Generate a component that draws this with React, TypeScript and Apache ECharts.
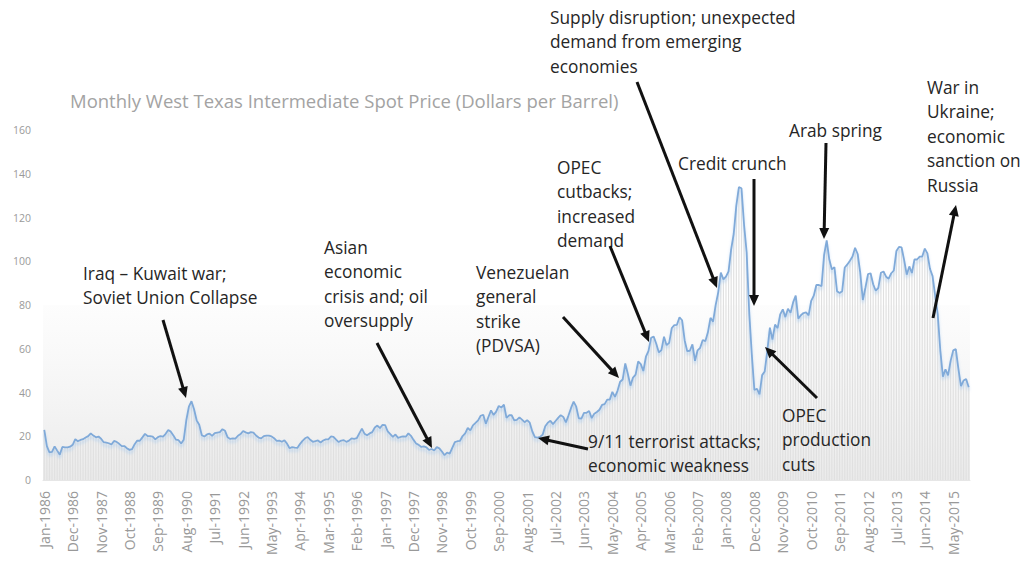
import React, { useEffect, useRef } from "react";
import * as echarts from "echarts";

const MONTHS = ["Jan", "Feb", "Mar", "Apr", "May", "Jun", "Jul", "Aug", "Sep", "Oct", "Nov", "Dec"];
const START_YEAR = 1986;

// Monthly WTI spot price, Jan-1986 .. Nov-2015 (USD per barrel)
const wtiPrice = [
  22.93, 15.46, 12.61, 12.84, 15.38, 13.43, 11.59, 15.10, 14.87, 14.90, 15.22, 16.11,
  18.65, 17.75, 18.30, 18.68, 19.44, 20.07, 21.34, 20.31, 19.53, 19.86, 18.85, 17.28,
  17.13, 16.80, 16.20, 17.86, 17.42, 16.53, 15.50, 15.52, 14.54, 13.77, 14.14, 16.38,
  18.02, 17.94, 19.48, 21.07, 20.12, 20.05, 19.78, 18.58, 19.59, 20.10, 19.86, 21.10,
  22.86, 22.11, 20.39, 18.43, 18.20, 16.70, 18.45, 27.31, 33.51, 36.04, 32.33, 27.28,
  25.23, 20.48, 19.90, 20.83, 21.23, 20.19, 21.40, 21.69, 21.89, 23.23, 22.46, 19.50,
  18.79, 19.01, 18.92, 20.23, 20.98, 22.39, 21.78, 21.34, 21.88, 21.69, 20.34, 19.41,
  19.03, 20.09, 20.32, 20.25, 19.95, 19.09, 17.89, 18.01, 17.50, 18.15, 16.61, 14.52,
  15.03, 14.78, 14.68, 16.42, 17.89, 19.06, 19.66, 18.38, 17.45, 17.72, 18.07, 17.16,
  18.04, 18.57, 18.54, 19.90, 19.74, 18.45, 17.33, 18.02, 18.23, 17.43, 17.99, 19.03,
  18.85, 19.09, 21.33, 23.50, 21.17, 20.42, 21.30, 21.90, 23.97, 24.88, 23.71, 25.23,
  25.13, 22.18, 20.97, 19.70, 20.82, 19.26, 19.66, 19.95, 19.80, 21.33, 20.19, 18.33,
  16.72, 16.06, 15.12, 15.35, 14.91, 13.72, 14.17, 13.47, 15.03, 14.46, 13.00, 11.35,
  12.52, 12.01, 14.68, 17.31, 17.72, 17.92, 20.10, 21.28, 23.80, 22.69, 25.00, 26.10,
  27.26, 29.37, 29.84, 25.72, 28.79, 31.82, 29.70, 31.26, 33.88, 33.11, 34.42, 28.44,
  29.59, 29.61, 27.25, 27.49, 28.63, 27.60, 26.43, 27.37, 26.20, 22.17, 19.64, 19.39,
  19.72, 20.72, 24.53, 26.18, 27.04, 25.52, 26.97, 28.39, 29.66, 28.84, 26.35, 29.46,
  32.95, 35.83, 33.51, 28.17, 28.11, 30.66, 30.75, 31.57, 28.31, 30.34, 31.11, 32.13,
  34.31, 34.69, 36.74, 36.75, 40.28, 38.03, 40.78, 44.90, 45.94, 53.28, 48.47, 43.15,
  46.84, 48.15, 54.19, 52.98, 49.83, 56.35, 59.00, 64.99, 65.59, 62.26, 58.32, 59.41,
  65.49, 61.63, 62.69, 69.44, 70.84, 70.95, 74.41, 73.04, 63.80, 58.89, 59.08, 61.96,
  54.51, 59.28, 60.44, 63.98, 63.46, 67.49, 74.12, 72.36, 79.92, 85.80, 94.77, 91.69,
  92.97, 95.39, 105.45, 112.58, 125.40, 133.88, 133.37, 116.67, 104.11, 76.61, 57.31, 41.12,
  41.71, 39.09, 47.94, 49.65, 59.03, 69.64, 64.15, 71.05, 69.41, 75.72, 77.99, 74.47,
  78.33, 76.39, 81.20, 84.29, 73.74, 75.34, 76.32, 76.60, 75.24, 81.89, 84.25, 89.15,
  89.17, 88.58, 102.86, 109.53, 100.90, 96.26, 97.30, 86.33, 85.52, 86.32, 97.16, 98.56,
  100.27, 102.20, 106.16, 103.32, 94.66, 82.30, 87.90, 94.13, 94.51, 89.49, 86.53, 87.86,
  94.76, 95.31, 92.94, 92.02, 94.51, 95.77, 104.67, 106.57, 106.29, 100.54, 93.86, 97.63,
  94.62, 100.82, 100.80, 102.07, 102.18, 105.79, 103.59, 96.54, 93.21, 84.40, 75.79, 59.29,
  47.22, 50.58, 47.82, 54.45, 59.27, 59.82, 50.90, 42.87, 45.48, 46.22, 42.44,
];

const categories: string[] = wtiPrice.map(
  (_, i) => `${MONTHS[i % 12]}-${START_YEAR + Math.floor(i / 12)}`
);

const TITLE = "Monthly West Texas Intermediate Spot Price (Dollars per Barrel)";

const noteTexts: string[][] = [
  ["Iraq – Kuwait war;", "Soviet Union Collapse"],
  ["Asian", "economic", "crisis and; oil", "oversupply"],
  ["Venezuelan", "general", "strike", "(PDVSA)"],
  ["9/11 terrorist attacks;", "economic weakness"],
  ["OPEC", "cutbacks;", "increased", "demand"],
  ["Supply disruption; unexpected", "demand from emerging", "economies"],
  ["Credit crunch"],
  ["Arab spring"],
  ["War in", "Ukraine;", "economic", "sanction on", "Russia"],
  ["OPEC", "production", "cuts"],
];
// first-line centre of each note (pixels)
const notePos: number[][] = [
  [83, 273], [324, 247], [476, 272], [588, 441], [557, 167],
  [550, 17], [678, 163], [789, 130], [927, 87], [782, 415],
];
// arrow start -> tip (pixels)
const arrows: number[][] = [
  [163, 320, 186, 398],
  [377, 343, 432, 448],
  [563, 317, 619, 378],
  [588, 449, 538, 438],
  [610, 246, 649, 342],
  [637, 82, 717, 288],
  [754, 179, 754, 306],
  [826, 143, 824, 239],
  [933, 318, 956, 205],
  [817, 398, 765, 347],
];

const FONT = "Open Sans";

function buildGraphics() {
  const els: any[] = [];
  els.push({
    type: "text",
    x: 70,
    y: 100,
    style: {
      text: TITLE,
      fill: "#a3a3a3",
      font: `18.5px "${FONT}"`,
      textVerticalAlign: "middle",
    },
  });
  noteTexts.forEach((lines, i) => {
    const [x, y] = notePos[i];
    lines.forEach((t, j) => {
      els.push({
        type: "text",
        x,
        y: y + j * 24.5,
        z: 20,
        style: {
          text: t,
          fill: "#262626",
          font: `17.3px "${FONT}"`,
          textVerticalAlign: "middle",
        },
      });
    });
  });
  arrows.forEach(([x1, y1, x2, y2]) => {
    const dx = x2 - x1;
    const dy = y2 - y1;
    const len = Math.sqrt(dx * dx + dy * dy);
    const ux = dx / len;
    const uy = dy / len;
    const hl = 11;
    const hw = 5;
    const bx = x2 - ux * hl;
    const by = y2 - uy * hl;
    els.push({
      type: "line",
      z: 20,
      shape: { x1, y1, x2: bx + ux * 2, y2: by + uy * 2 },
      style: { stroke: "#111", lineWidth: 3 },
    });
    els.push({
      type: "polygon",
      z: 20,
      shape: {
        points: [
          [x2, y2],
          [bx - uy * hw, by + ux * hw],
          [bx + uy * hw, by - ux * hw],
        ],
      },
      style: { fill: "#111" },
    });
  });
  return els;
}

export default function App() {
  const ref = useRef<HTMLDivElement>(null);
  useEffect(() => {
    if (!ref.current) return;
    const chart = echarts.init(ref.current, null, { renderer: "svg" });
    chart.setOption({
      animation: false,
      backgroundColor: "#ffffff",
      grid: { left: 43, right: 63, top: 130, bottom: 87, containLabel: false },
      xAxis: {
        type: "category",
        data: categories,
        boundaryGap: true,
        axisLine: { show: true, lineStyle: { color: "#e6e6e6" } },
        axisTick: { show: false },
        axisLabel: {
          interval: 10,
          rotate: 90,
          color: "#999999",
          fontFamily: FONT,
          fontSize: 14,
          margin: 11,
        },
        splitLine: { show: false },
      },
      yAxis: {
        type: "value",
        min: 0,
        max: 160,
        interval: 20,
        axisLine: { show: false },
        axisTick: { show: false },
        splitLine: { show: false },
        axisLabel: { color: "#9a9a9a", fontFamily: FONT, fontSize: 10.5, margin: 12 },
      },
      series: [
        {
          type: "bar",
          data: wtiPrice,
          barWidth: "45%",
          silent: true,
          itemStyle: { color: "#e0e0e0" },
          markArea: {
            silent: true,
            itemStyle: {
              color: new echarts.graphic.LinearGradient(0, 0, 0, 1, [
                { offset: 0, color: "rgba(240,240,240,0.15)" },
                { offset: 1, color: "rgba(232,232,232,0.9)" },
              ]),
            },
            data: [[{ yAxis: 0 }, { yAxis: 80 }]],
          },
        },
        {
          type: "line",
          data: wtiPrice,
          symbol: "none",
          smooth: false,
          z: 5,
          lineStyle: {
            color: "#80aad9",
            width: 1.8,
            shadowColor: "rgba(160,200,240,0.6)",
            shadowBlur: 3,
            shadowOffsetY: 3,
          },
        },
      ],
      graphic: buildGraphics(),
    });
    return () => chart.dispose();
  }, []);
  return (
    <div
      ref={ref}
      style={{ position: "fixed", left: 0, top: 0, width: 1033, height: 567, background: "#fff" }}
    />
  );
}
